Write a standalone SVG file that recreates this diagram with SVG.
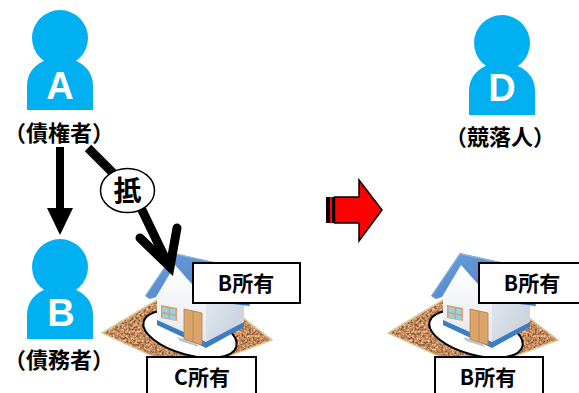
<svg xmlns="http://www.w3.org/2000/svg" xmlns:xlink="http://www.w3.org/1999/xlink" width="579" height="393" viewBox="0 0 579 393">
  <style>
    .person { fill: #00B0F0; }
    .initial { font-family: "Liberation Sans", Arial, sans-serif; font-weight: bold; font-size: 38px; fill: #ffffff; text-anchor: middle; }
    .role { font-family: "Noto Sans CJK JP", "Noto Sans", sans-serif; font-weight: bold; font-size: 22px; fill: #000000; text-anchor: middle; }
    .owner rect { fill: #ffffff; stroke: #000000; stroke-width: 2; }
    .owner text { font-family: "Noto Sans CJK JP", "Noto Sans", sans-serif; font-weight: bold; font-size: 21px; fill: #000000; text-anchor: middle; }
    .thick { stroke: #000000; stroke-width: 9; fill: none; }
    .trim { fill: #3b7cc4; }
  </style>
  <defs>
    <!-- generic person silhouette: head + shoulders -->
    <g id="figure">
      <circle cx="60" cy="38" r="28"/>
      <path d="M27,110 V86 C27,68 42,58 60,58 C78,58 93,68 93,86 V110 Z"/>
    </g>
    <filter id="gravel" x="0" y="0" width="1" height="1" color-interpolation-filters="sRGB">
      <feTurbulence type="fractalNoise" baseFrequency="0.45" numOctaves="3" seed="4" result="n"/>
      <feColorMatrix in="n" type="matrix" values="1.0 0 0 0 0.26  0.9 0 0 0 0.09  0.7 0 0 0 0.02  0 0 0 0 1" result="c"/>
      <feComposite in="c" in2="SourceGraphic" operator="in"/>
    </filter>
    <linearGradient id="front-wall" x1="0" y1="0" x2="0" y2="1">
      <stop offset="0" stop-color="#ffffff"/>
      <stop offset="1" stop-color="#e2e7ee"/>
    </linearGradient>
    <linearGradient id="side-wall" x1="0" y1="0" x2="1" y2="1">
      <stop offset="0" stop-color="#e6ebf1"/>
      <stop offset="1" stop-color="#c3ccd8"/>
    </linearGradient>
    <linearGradient id="roof" x1="0" y1="0" x2="1" y2="1">
      <stop offset="0" stop-color="#6f9fdb"/>
      <stop offset="1" stop-color="#3f78c0"/>
    </linearGradient>
    <!-- lot with house -->
    <g id="house">
      <polygon points="102,333 192,279 272,340 187,372" fill="#b88858" filter="url(#gravel)"/>
      <polygon points="102,333 192,279 272,340 187,372" fill="none" stroke="#d9cb9c" stroke-width="1.5"/>
      <ellipse cx="190" cy="334" rx="48" ry="21" transform="rotate(15 190 334)" fill="#ffffff" stroke="#000000" stroke-width="2"/>
      <!-- side wall -->
      <polygon points="206,294 244,282 244,325 206,345" fill="url(#side-wall)"/>
      <polygon class="trim" points="206,342 244,322 244,327 206,348"/>
      <!-- front gable wall -->
      <polygon points="157,296 175,265 206,294 206,345 157,323" fill="url(#front-wall)"/>
      <polygon class="trim" points="157,320 206,342 206,348 157,325"/>
      <!-- step -->
      <polygon points="177,337 196,343 199,347 180,341" fill="#bfc3ca"/>
      <!-- window -->
      <polygon points="161,305 177,308 177,321 161,318" fill="#d4a26a"/>
      <polygon points="162.5,307 168.5,308.2 168.5,313 162.5,311.8" fill="#8fd3f2"/>
      <polygon points="170,308.5 175.5,309.6 175.5,314.4 170,313.3" fill="#8fd3f2"/>
      <polygon points="162.5,313.5 168.5,314.7 168.5,318.8 162.5,317.6" fill="#8fd3f2"/>
      <polygon points="170,315 175.5,316.1 175.5,320.2 170,319.1" fill="#8fd3f2"/>
      <!-- door -->
      <polygon points="184,309 202,313 202,345 184,339" fill="#dba46b" stroke="#b57d44" stroke-width="0.8"/>
      <line x1="193" y1="311" x2="193" y2="342" stroke="#b57d44" stroke-width="0.8"/>
      <!-- roof -->
      <polygon points="145,296 174,253 240,268 250,306 207,301 175,265 156,297 150,299" fill="url(#roof)"/>
      <polyline points="146,295 174,254 240,268" fill="none" stroke="#8ab4e6" stroke-width="1.2"/>
    </g>
  </defs>

  <!-- people -->
  <g id="person-a" class="person">
    <use xlink:href="#figure"/>
    <text class="initial" x="60" y="99">A</text>
    <text class="role" x="59" y="140.5">（債権者）</text>
  </g>
  <g id="person-b" class="person">
    <use xlink:href="#figure" y="229"/>
    <text class="initial" x="61" y="326">B</text>
    <text class="role" x="59" y="368">（債務者）</text>
  </g>
  <g id="person-d" class="person">
    <use xlink:href="#figure" x="442" y="5"/>
    <text class="initial" x="502" y="101">D</text>
    <text class="role" x="500" y="145">（競落人）</text>
  </g>

  <!-- properties -->
  <g id="property-before">
    <use xlink:href="#house"/>
  </g>
  <g id="property-after">
    <use xlink:href="#house" x="286"/>
  </g>

  <!-- ownership labels -->
  <g id="owner-building-before" class="owner">
    <rect x="193" y="263" width="107" height="40"/>
    <text x="246" y="291">B所有</text>
  </g>
  <g id="owner-land-before" class="owner">
    <rect x="147" y="357" width="109" height="40"/>
    <text x="202" y="384.5">C所有</text>
  </g>
  <g id="owner-building-after" class="owner">
    <rect x="479" y="263" width="104" height="40"/>
    <text x="532" y="291">B所有</text>
  </g>
  <g id="owner-land-after" class="owner">
    <rect x="435" y="357" width="108" height="40"/>
    <text x="488" y="384.5">B所有</text>
  </g>

  <!-- connectors -->
  <g id="connectors">
    <!-- A to B -->
    <rect x="56" y="147" width="8" height="62" fill="#000000"/>
    <polygon points="47,208 73,208 60,235" fill="#000000"/>
    <!-- mortgage from A onto the building -->
    <line class="thick" x1="88" y1="148" x2="125" y2="185"/>
    <line class="thick" x1="130" y1="185" x2="167" y2="262"/>
    <polyline class="thick" points="140,238 170,267 177,228" stroke-linecap="round" stroke-linejoin="miter"/>
    <ellipse cx="127.5" cy="190.5" rx="27" ry="22" fill="#ffffff" stroke="#000000" stroke-width="1.5"/>
    <text x="127.5" y="201" font-family="'Noto Sans CJK JP', sans-serif" font-weight="bold" font-size="28" text-anchor="middle">抵</text>
  </g>

  <!-- transition arrow -->
  <g id="transition">
    <rect x="326" y="197" width="4" height="26" fill="#000000"/>
    <rect x="330" y="197" width="1.5" height="26" fill="#ff0000"/>
    <rect x="331.5" y="197" width="2.5" height="26" fill="#000000"/>
    <polygon points="334.5,197 359,197 359,180 382,210 359,241 359,223 334.5,223" fill="#ff0000" stroke="#000000" stroke-width="1.5"/>
  </g>
</svg>
